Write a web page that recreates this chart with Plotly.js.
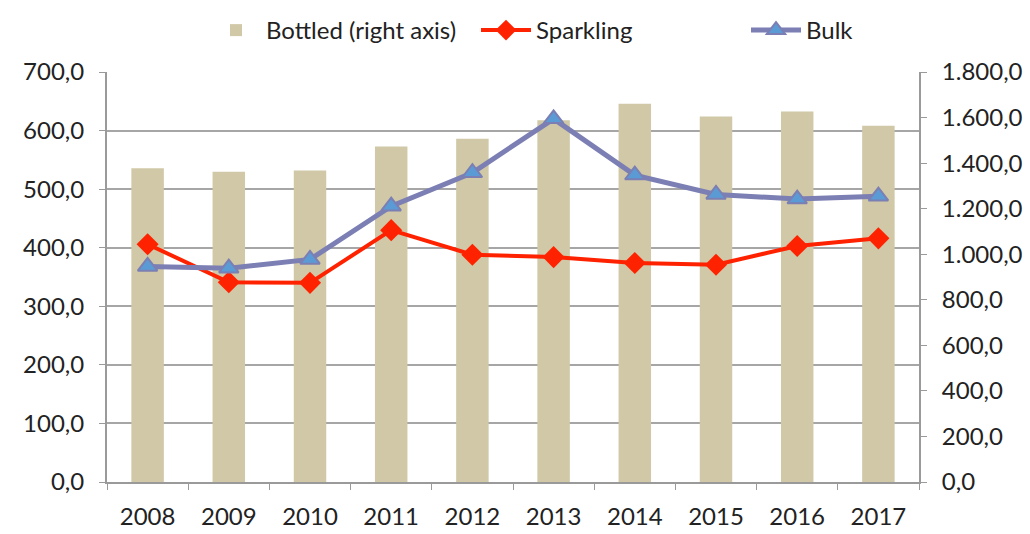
<!DOCTYPE html>
<html><head><meta charset="utf-8">
<script src="https://cdn.plot.ly/plotly-3.0.1.min.js"></script>
<style>html,body{margin:0;padding:0;background:#fff}#chart{width:1030px;height:534px}</style>
</head><body><div id="chart"></div>
<script>
const years = ['2008','2009','2010','2011','2012','2013','2014','2015','2016','2017'];
const bottled = [1377,1362,1368,1473,1507,1588,1661,1605,1627,1564];
const sparkling = [406,341,340,430,388,384,374,371,403,416];
const bulk = [368,365,380,471,528,620,524,491,483,488];

const FONT = 'Lato, "Open Sans", sans-serif';
const traces = [
  {type:'bar', name:'Bottled (right axis)', x:years, y:bottled, yaxis:'y',
   marker:{color:'#d0c8a6'}, width:0.4},
  {type:'scatter', mode:'lines+markers', name:'Sparkling', x:years, y:sparkling, yaxis:'y2',
   line:{color:'#ff2200', width:4},
   marker:{symbol:'diamond', size:17, color:'#ff2200'}},
  {type:'scatter', mode:'lines+markers', name:'Bulk', x:years, y:bulk, yaxis:'y2',
   line:{color:'#7b7fb3', width:5},
   marker:{symbol:'triangle-up', size:17, color:'#5b9bd5', line:{color:'#7b7fb3', width:2}}}
];
const layout = {
  width:1030, height:534,
  margin:{l:107, r:111, t:72, b:52, autoexpand:false},
  paper_bgcolor:'#fff', plot_bgcolor:'#fff',
  separators:',.',
  font:{family:FONT, size:24, color:'#222'},
  showlegend:true,
  legend:{orientation:'h', x:0.2, xref:'container', xanchor:'left', y:0.985, yref:'container', yanchor:'top',
          font:{family:FONT, size:24, color:'#222'}, traceorder:'normal', itemwidth:50, entrywidth:205},
  xaxis:{type:'category', range:[-0.5, years.length-0.5], showgrid:false, showline:true, linecolor:'#9a9a9a', linewidth:2,
         ticks:'outside', tickson:'boundaries', ticklen:6, tickcolor:'#9a9a9a', tickwidth:1,
         tickfont:{family:FONT, size:24, color:'#222'}, ticklabelstandoff:12},
  yaxis:{range:[0,1800], dtick:200, tickformat:',.1f', side:'right', showgrid:false,
          showline:true, linecolor:'#9a9a9a', linewidth:2, ticks:'outside', ticklen:6, tickcolor:'#9a9a9a',
          zeroline:false, tickfont:{family:FONT, size:24, color:'#222'}, ticklabelstandoff:10},
  yaxis2:{range:[0,700], dtick:100, tickformat:'.1f', overlaying:'y', side:'left',
         showgrid:true, gridcolor:'#a6a6a6', gridwidth:2, layer:'below traces',
         showline:true, linecolor:'#9a9a9a', linewidth:2, ticks:'outside', ticklen:6, tickcolor:'#9a9a9a',
         zeroline:false, tickfont:{family:FONT, size:24, color:'#222'}, ticklabelstandoff:10},
  bargap:0.6
};
Plotly.newPlot('chart', traces, layout, {displayModeBar:false, staticPlot:true});
</script></body></html>
